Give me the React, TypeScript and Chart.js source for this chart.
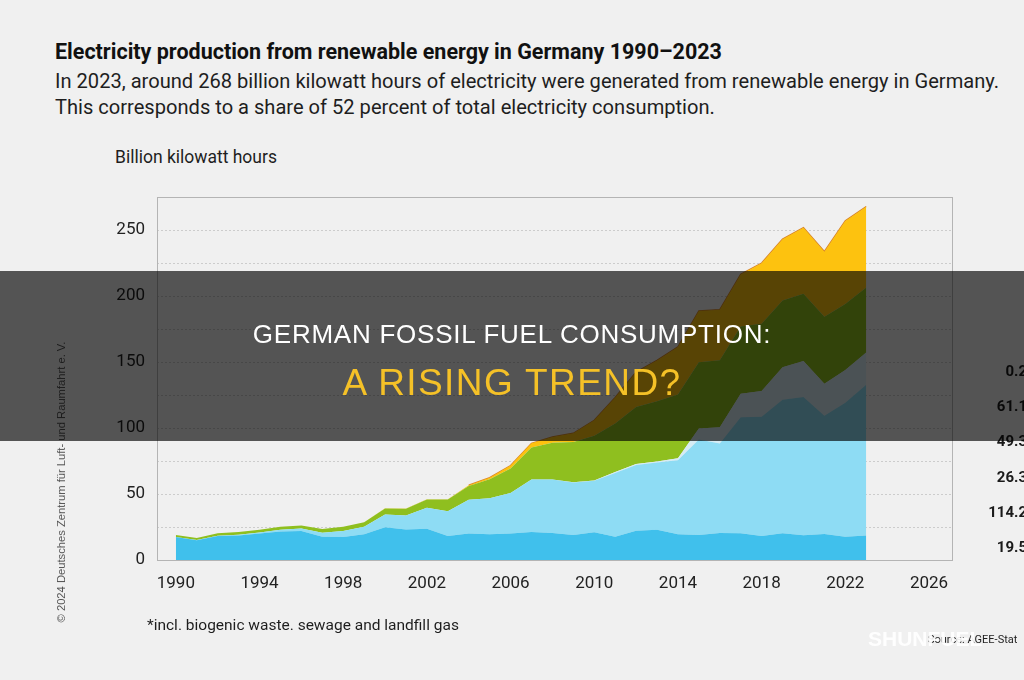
import React, { useEffect, useRef } from "react";
import { Chart, registerables } from "chart.js";

Chart.register(...registerables);

// ---- Data (billion kWh) ----
const years = [
  1990, 1991, 1992, 1993, 1994, 1995, 1996, 1997, 1998, 1999,
  2000, 2001, 2002, 2003, 2004, 2005, 2006, 2007, 2008, 2009,
  2010, 2011, 2012, 2013, 2014, 2015, 2016, 2017, 2018, 2019,
  2020, 2021, 2022, 2023,
];
const hydropower = [
  17.4, 15.0, 18.1, 18.6, 20.0, 21.5, 21.9, 17.6, 17.4, 19.6,
  24.9, 23.2, 23.7, 18.2, 20.1, 19.6, 20.0, 21.2, 20.4, 19.0,
  21.0, 17.7, 22.1, 23.0, 19.6, 19.0, 20.5, 20.2, 18.1, 20.2,
  18.7, 19.7, 17.6, 18.5,
];
const windOnshore = [
  0.07, 0.1, 0.28, 0.6, 0.9, 1.5, 2.0, 3.0, 4.5, 5.5,
  9.5, 10.5, 15.8, 18.7, 25.5, 27.2, 30.7, 39.7, 40.6, 39.8,
  39.0, 48.3, 49.9, 50.8, 55.9, 72.3, 67.7, 88.0, 90.5, 101.2,
  104.8, 89.5, 101.5, 114.2,
];
const windOffshore = [
  0, 0, 0, 0, 0, 0, 0, 0, 0, 0,
  0, 0, 0, 0, 0, 0, 0, 0, 0, 0.04,
  0.2, 0.6, 0.7, 0.9, 1.5, 8.3, 12.3, 17.7, 19.5, 24.7,
  27.3, 24.4, 24.8, 24.5,
];
const biomass = [
  1.4, 1.5, 1.9, 2.0, 2.1, 2.2, 2.3, 2.8, 3.3, 3.5,
  4.7, 5.2, 6.4, 8.9, 10.5, 14.3, 18.7, 24.4, 27.8, 30.6,
  33.9, 36.9, 43.2, 45.5, 48.3, 50.3, 50.9, 51.0, 50.9, 50.4,
  50.9, 50.7, 50.0, 49.3,
];
const photovoltaics = [
  0, 0, 0, 0, 0.01, 0.01, 0.01, 0.02, 0.04, 0.03,
  0.06, 0.1, 0.2, 0.3, 0.56, 1.3, 2.2, 3.1, 4.4, 6.6,
  11.7, 19.6, 26.4, 31.0, 36.1, 38.7, 38.1, 39.4, 45.8, 46.4,
  50.0, 49.3, 63.0, 61.1,
];
const geothermal = [
  0, 0, 0, 0, 0, 0, 0, 0, 0, 0,
  0, 0, 0, 0, 0, 0, 0, 0, 0.02, 0.02,
  0.03, 0.02, 0.03, 0.08, 0.1, 0.13, 0.18, 0.16, 0.18, 0.2,
  0.23, 0.25, 0.19, 0.2,
];

const xTickValues = [1990, 1994, 1998, 2002, 2006, 2010, 2014, 2018, 2022, 2026];
const yLabelValues = [0, 50, 100, 150, 200, 250];
const endLabels = ["0.2", "61.1", "49.3", "26.3", "114.2", "19.5"];
const endLabelY = [371, 406, 441, 477, 512, 547];

const seriesDefs = [
  { name: "Hydropower", values: hydropower, color: "#40c0ec" },
  { name: "Wind energy onshore", values: windOnshore, color: "#8edcf4" },
  { name: "Wind energy offshore", values: windOffshore, color: "#d6ecf4" },
  { name: "Biomass*", values: biomass, color: "#8fbf1f" },
  { name: "Photovoltaics", values: photovoltaics, color: "#fdc20f" },
  { name: "Geothermal energy", values: geothermal, color: "#e08a1e" },
];

const framePlugin = {
  id: "frame",
  afterDraw(chart: any) {
    const { ctx, chartArea: a } = chart;
    ctx.save();
    ctx.strokeStyle = "#b4b4b4";
    ctx.lineWidth = 1;
    ctx.strokeRect(
      Math.round(a.left) + 0.5,
      Math.round(a.top) + 0.5,
      Math.round(a.right - a.left),
      Math.round(a.bottom - a.top)
    );
    ctx.restore();
  },
};

function App() {
  const canvasRef = useRef<HTMLCanvasElement | null>(null);

  useEffect(() => {
    document.body.style.margin = "0";
    const canvas = canvasRef.current;
    if (!canvas) return;
    const datasets = seriesDefs.map((s, i) => {
      const isTop = i === seriesDefs.length - 1;
      return {
        label: s.name,
        data: years.map((yr, k) => ({ x: yr, y: s.values[k] })),
        backgroundColor: s.color,
        borderColor: isTop ? "#d8862a" : "transparent",
        borderWidth: isTop ? 1.3 : 0,
        fill: i === 0 ? "origin" : "-1",
        pointRadius: 0,
        tension: 0,
        segment: isTop
          ? {
              borderColor: (ctx: any) =>
                ctx.p0.parsed.x < 2004 ? "transparent" : "#d8862a",
            }
          : undefined,
      };
    });

    const chart = new Chart(canvas, {
      type: "line",
      data: { datasets },
      plugins: [framePlugin],
      options: {
        responsive: false,
        animation: false,
        layout: { padding: { left: 0, right: 72, top: 197, bottom: 70 } },
        plugins: { legend: { display: false }, tooltip: { enabled: false } },
        scales: {
          x: {
            type: "linear",
            min: 1989.1,
            max: 2027.1,
            afterBuildTicks: (scale: any) => {
              scale.ticks = xTickValues.map((v) => ({ value: v }));
            },
            afterFit: (scale: any) => {
              scale.height = 50;
            },
            grid: { display: false, drawTicks: false },
            border: { display: false },
            ticks: {
              padding: 14,
              color: "#222",
              font: { family: "Roboto", size: 17 },
              callback: (v: any) => String(v),
              maxRotation: 0,
              autoSkip: false,
            },
          },
          y: {
            stacked: true,
            min: 0,
            max: 275,
            z: 1,
            afterFit: (scale: any) => {
              scale.width = 157;
            },
            grid: { color: "rgba(0,0,0,0.15)", drawTicks: false, lineWidth: 1 },
            border: { display: false, dash: [2, 2] },
            ticks: {
              stepSize: 25,
              padding: 12,
              color: "#222",
              font: { family: "Roboto", size: 17 },
              callback: (v: any) => (yLabelValues.includes(Number(v)) ? String(v) : ""),
            },
          },
        },
      },
    });
    return () => chart.destroy();
  }, []);

  const txt: React.CSSProperties = {
    position: "absolute",
    whiteSpace: "nowrap",
    fontFamily: "Roboto, sans-serif",
    color: "#1e1e1e",
  };

  return (
    <div
      style={{
        position: "absolute",
        left: 0,
        top: 0,
        width: 1024,
        height: 680,
        overflow: "hidden",
        background: "#f0f0f0",
      }}
    >
      <div style={{ ...txt, left: 55, top: 39, fontSize: 21.5, lineHeight: "26px", fontWeight: 700, color: "#111" }}>
        Electricity production from renewable energy in Germany 1990–2023
      </div>
      <div style={{ ...txt, left: 55, top: 68, fontSize: 20.1, lineHeight: "26px" }}>
        In 2023, around 268 billion kilowatt hours of electricity were generated from renewable energy in Germany.
      </div>
      <div style={{ ...txt, left: 55, top: 94, fontSize: 20.1, lineHeight: "26px" }}>
        This corresponds to a share of 52 percent of total electricity consumption.
      </div>
      <div style={{ ...txt, left: 115, top: 146, fontSize: 17.5, lineHeight: "22px" }}>Billion kilowatt hours</div>

      <canvas
        ref={canvasRef}
        width={1024}
        height={680}
        style={{ position: "absolute", left: 0, top: 0, width: 1024, height: 680 }}
      />

      {endLabels.map((t, i) => (
        <div
          key={t + i}
          style={{
            ...txt,
            right: -3,
            top: endLabelY[i] - 9,
            fontSize: 15,
            lineHeight: "18px",
            fontWeight: 700,
            color: "#1a1a1a",
          }}
        >
          {t}
        </div>
      ))}

      <div style={{ ...txt, left: 147, top: 615, fontSize: 15.5, lineHeight: "20px" }}>
        *incl. biogenic waste. sewage and landfill gas
      </div>
      <div style={{ ...txt, left: 928, top: 633, fontSize: 11, lineHeight: "14px" }}>Source: AGEE-Stat</div>
      <div
        style={{
          ...txt,
          left: 868,
          top: 626,
          fontSize: 21,
          lineHeight: "26px",
          fontWeight: 700,
          fontFamily: "'Liberation Sans', Arial, sans-serif",
          color: "rgba(255,255,255,0.92)",
        }}
      >
        SHUNFUEL
      </div>
      <div
        style={{
          ...txt,
          left: 61 - 160,
          top: 482 - 8,
          width: 320,
          textAlign: "center",
          fontSize: 11.2,
          lineHeight: "16px",
          fontFamily: "'Liberation Sans', Arial, sans-serif",
          color: "#555",
          transform: "rotate(-90deg)",
        }}
      >
        © 2024 Deutsches Zentrum für Luft- und Raumfahrt e. V.
      </div>

      <div
        style={{
          position: "absolute",
          left: 0,
          top: 271,
          width: 1024,
          height: 170,
          background: "rgba(0,0,0,0.65)",
        }}
      >
        <div
          style={{
            position: "absolute",
            left: 0,
            width: 1024,
            top: 63 - 15,
            textAlign: "center",
            fontFamily: "'Liberation Sans', Arial, sans-serif",
            fontSize: 26,
            lineHeight: "30px",
            letterSpacing: "0.75px",
            color: "#ffffff",
            whiteSpace: "nowrap",
          }}
        >
          GERMAN FOSSIL FUEL CONSUMPTION:
        </div>
        <div
          style={{
            position: "absolute",
            left: 0,
            width: 1024,
            top: 112 - 22,
            textAlign: "center",
            fontFamily: "'Liberation Sans', Arial, sans-serif",
            fontSize: 37,
            lineHeight: "44px",
            letterSpacing: "1.4px",
            color: "#f5c127",
            whiteSpace: "nowrap",
          }}
        >
          A RISING TREND?
        </div>
      </div>
    </div>
  );
}

export default App;
